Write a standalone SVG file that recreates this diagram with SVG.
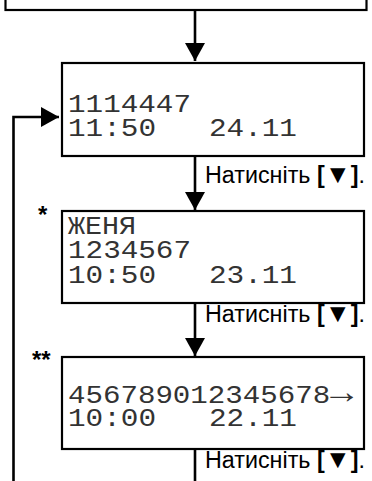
<svg xmlns="http://www.w3.org/2000/svg" width="372" height="481" viewBox="0 0 372 481" xml:space="preserve">
<style>
.box{fill:#fff;stroke:#000;stroke-width:2.2}
.line{fill:none;stroke:#000;stroke-width:2.6}
.mono{font-family:"Liberation Mono","DejaVu Sans Mono",monospace;font-size:26px;fill:#333;white-space:pre}
.lbl{font-family:"Liberation Sans",Arial,sans-serif;font-size:23px;fill:#000}
.b{font-weight:bold}
.tri{font-size:26px}
.star{font-family:"Liberation Sans",Arial,sans-serif;font-size:24px;font-weight:bold;fill:#000}
</style>
<defs>
<marker id="ah" markerWidth="18" markerHeight="20" refX="18" refY="10" orient="auto" markerUnits="userSpaceOnUse" viewBox="0 0 18 20">
<path d="M0,0 L18,10 L0,20 Z" fill="#000"/>
</marker>
</defs>
<g id="connectors">
<line class="line" x1="195" y1="10" x2="195" y2="61" marker-end="url(#ah)"/>
<line class="line" x1="195" y1="156" x2="195" y2="210" marker-end="url(#ah)"/>
<line class="line" x1="195" y1="303" x2="195" y2="356" marker-end="url(#ah)"/>
<line class="line" x1="195" y1="449" x2="195" y2="481"/>
<polyline class="line" points="13.5,481 13.5,117 59,117" marker-end="url(#ah)"/>
</g>
<g id="top">
<rect class="box" x="5.5" y="-20" width="361" height="30"/>
</g>
<g id="screen1">
<rect class="box" x="62" y="63" width="302" height="93"/>
<text class="mono" x="68" y="112" textLength="123" lengthAdjust="spacingAndGlyphs">1114447</text>
<text class="mono" x="68" y="135.5" textLength="229" lengthAdjust="spacingAndGlyphs">11:50   24.11</text>
</g>
<g id="label1">
<text class="lbl" x="205" y="183" textLength="160" lengthAdjust="spacingAndGlyphs">Натисніть <tspan class="b">[<tspan class="tri">▼</tspan>]</tspan>.</text>
</g>
<g id="screen2">
<text class="star" x="38" y="223">*</text>
<rect class="box" x="62" y="211" width="302" height="92"/>
<text class="mono" x="68" y="233.5" textLength="68" lengthAdjust="spacingAndGlyphs">ЖЕНЯ</text>
<text class="mono" x="68" y="258" textLength="123" lengthAdjust="spacingAndGlyphs">1234567</text>
<text class="mono" x="68" y="283" textLength="229" lengthAdjust="spacingAndGlyphs">10:50   23.11</text>
</g>
<g id="label2">
<text class="lbl" x="205" y="322" textLength="160" lengthAdjust="spacingAndGlyphs">Натисніть <tspan class="b">[<tspan class="tri">▼</tspan>]</tspan>.</text>
</g>
<g id="screen3">
<text class="star" x="32" y="368">**</text>
<rect class="box" x="62" y="357" width="302" height="92"/>
<text class="mono" x="68" y="403" textLength="285" lengthAdjust="spacingAndGlyphs">456789012345678<tspan font-size="34">→</tspan></text>
<text class="mono" x="68" y="426" textLength="229" lengthAdjust="spacingAndGlyphs">10:00   22.11</text>
</g>
<g id="label3">
<text class="lbl" x="205" y="468" textLength="160" lengthAdjust="spacingAndGlyphs">Натисніть <tspan class="b">[<tspan class="tri">▼</tspan>]</tspan>.</text>
</g>
</svg>
